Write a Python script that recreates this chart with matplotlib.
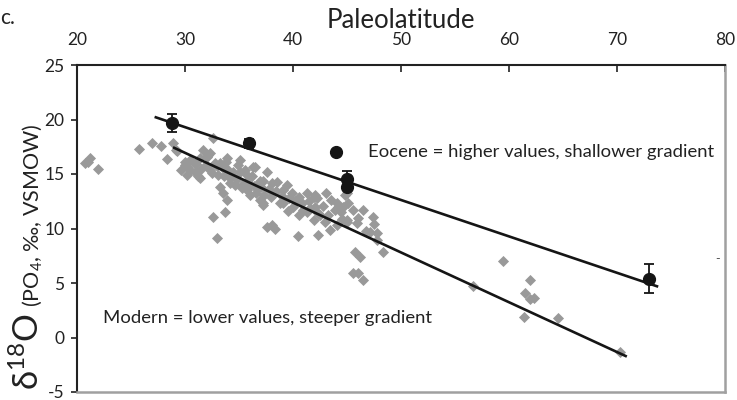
import matplotlib
matplotlib.use("Agg")
from matplotlib import pyplot as plt

plt.rcParams['font.family'] = ['Lato', 'DejaVu Sans']
plt.rcParams['mathtext.fontset'] = 'custom'
plt.rcParams['mathtext.rm'] = 'Lato'
plt.rcParams['mathtext.it'] = 'Lato:italic'
plt.rcParams['axes.unicode_minus'] = False

# modern samples (grey diamonds)
modern_lat = [20.7, 21.2, 21.0, 21.9, 25.7, 26.9, 27.8, 28.9, 28.3, 29.3,
              32.6, 30.0, 30.5, 30.2, 32.0, 32.8, 33.4, 34.0, 35.1, 35.7,
              36.5, 37.6, 33.2, 33.5, 33.9, 33.7, 32.6, 33.0, 35.7, 36.9,
              38.1, 39.1, 39.9, 40.6, 41.3, 41.9, 37.2, 37.6, 38.3, 40.5,
              42.3, 32.1, 33.2, 36.3, 35.6, 34.2, 36.9, 37.2, 36.6, 37.3,
              35.7, 43.1, 42.0, 43.4, 44.1, 44.2, 45.1, 45.0, 46.5, 47.4,
              47.1, 47.8, 45.7, 46.2, 48.3, 45.6, 46.5, 43.2, 42.3, 41.3,
              40.0, 39.1, 43.9, 44.8, 44.6, 45.6, 45.9, 45.0, 47.8, 46.0,
              37.2, 38.5, 39.4, 42.2, 44.1, 36.9, 38.8, 40.9, 41.6, 42.5,
              44.4, 38.1, 41.9, 45.0, 30.5, 30.9, 31.4, 31.9, 32.3, 33.1,
              34.4, 34.9, 34.6, 30.9, 31.4, 30.3, 31.7, 33.9, 35.1, 36.8,
              36.0, 35.3, 29.2,
              31.0, 31.5, 32.5, 33.0, 33.6, 34.2, 34.8, 35.4, 36.0, 36.4,
              37.0, 37.8, 38.4, 39.0, 39.6, 40.2, 40.8, 41.5, 42.0, 42.8,
              43.5, 33.8, 32.3, 36.2, 38.0, 39.5, 40.6, 43.0, 44.5, 46.0,
              46.8, 47.5, 30.0, 29.6, 31.2,
              56.7, 59.4, 61.9, 61.5, 61.9, 62.3, 61.4, 64.5, 70.3]
modern_d18o = [16.0, 16.5, 16.1, 15.5, 17.3, 17.8, 17.6, 17.8, 16.4, 17.1,
               18.3, 16.1, 15.4, 14.9, 16.6, 16.0, 15.6, 15.4, 15.2, 14.9,
               15.6, 15.2, 13.8, 13.3, 12.6, 11.5, 11.1, 9.1, 14.4, 14.3,
               14.2, 13.5, 13.3, 12.9, 13.3, 12.9, 12.3, 10.1, 10.0, 9.3,
               9.4, 16.7, 16.0, 15.6, 15.4, 14.2, 14.4, 12.2, 13.3, 13.1,
               13.5, 13.3, 13.1, 9.9, 10.3, 12.0, 12.3, 13.3, 11.7, 11.1,
               9.7, 9.6, 7.8, 7.4, 7.8, 5.9, 5.3, 11.2, 11.4, 11.5,
               12.0, 12.3, 11.7, 13.1, 12.0, 11.7, 10.5, 10.8, 8.9, 5.9,
               14.4, 14.3, 14.0, 12.8, 12.3, 12.6, 12.3, 11.7, 11.9, 11.2,
               11.5, 10.3, 10.8, 10.6, 16.3, 16.0, 16.5, 15.8, 15.4, 14.9,
               15.2, 15.8, 14.0, 15.2, 14.6, 15.6, 17.2, 16.5, 16.3, 13.7,
               13.1, 13.7, 17.2,
               15.9, 15.5, 15.1, 15.7, 14.8, 14.6, 14.5, 14.1, 14.0, 13.9,
               13.8, 13.6, 13.4, 13.0, 12.8, 12.5, 12.3, 12.5, 12.0, 12.1,
               12.6, 16.1, 16.9, 14.8, 12.9, 11.6, 11.2, 10.6, 10.9, 11.0,
               9.8, 10.4, 15.8, 15.4, 14.8,
               4.7, 7.0, 5.3, 4.1, 3.5, 3.6, 1.9, 1.8, -1.3]

# eocene samples (black circles with error bars)
eocene_lat = [28.8, 35.9, 44.0, 45.0, 45.0, 73.0]
eocene_d18o = [19.7, 17.8, 17.0, 14.5, 13.8, 5.4]
eocene_err = [0.85, 0.45, 0.0, 0.8, 0.0, 1.35]

# regression line end points
eocene_fit_lat = [27.3, 73.7]
eocene_fit_d18o = [20.2, 4.7]
modern_fit_lat = [29.0, 70.8]
modern_fit_d18o = [17.4, -1.7]

xticks = [20, 30, 40, 50, 60, 70, 80]
yticks = [-5, 0, 5, 10, 15, 20, 25]

W, H = 737, 400
fig = plt.figure(figsize=(W / 100, H / 100), dpi=100)
ax = fig.add_axes([77 / W, 8 / H, 648 / W, 327 / H])

ax.scatter(modern_lat, modern_d18o, marker='D', s=32, color='#999999',
           linewidths=0, zorder=2)
ax.plot(modern_fit_lat, modern_fit_d18o, color='#151515', lw=1.9, zorder=3)
ax.plot(eocene_fit_lat, eocene_fit_d18o, color='#151515', lw=1.9, zorder=3)
ax.errorbar(eocene_lat, eocene_d18o, yerr=eocene_err, fmt='o', ms=8.5,
            color='#151515', ecolor='#151515', elinewidth=1.3, capsize=3.3,
            capthick=1.3, zorder=4)

ax.set_xlim(20, 80)
ax.set_ylim(-5, 25)
ax.set_xticks(xticks)
ax.set_yticks(yticks)
ax.xaxis.tick_top()
ax.tick_params(axis='x', direction='in', length=5, width=1.2, labelsize=12.5,
               pad=12, colors='#222222')
ax.tick_params(axis='y', direction='out', length=4, width=1.2, labelsize=12.5,
               pad=5, colors='#222222')

for side in ['top', 'left']:
    ax.spines[side].set_color('#222222')
    ax.spines[side].set_linewidth(1.5)
for side in ['bottom', 'right']:
    ax.spines[side].set_color('#a0a0a0')
    ax.spines[side].set_linewidth(1.8)

ax.text(0.449, 0.719, 'Eocene = higher values, shallower gradient',
        transform=ax.transAxes, fontsize=13.3, va='baseline', ha='left',
        color='#222222')
ax.text(0.040, 0.211, 'Modern = lower values, steeper gradient',
        transform=ax.transAxes, fontsize=13.3, va='baseline', ha='left',
        color='#222222')
ax.text(79.3, 7.2, '-', fontsize=9, va='center', ha='center', color='#555555')

fig.text(401 / W, 1 - 28 / H, 'Paleolatitude', fontsize=18.5, ha='center',
         va='baseline', color='#222222')
fig.text(0, 1 - 24 / H, 'c.', fontsize=15, ha='left', va='baseline',
         color='#222222')

# y label in two parts: big delta-O, smaller units
big = fig.text(39 / W, 1 - 390 / H, r'δ$^{18}$O', fontsize=25, rotation=90,
               rotation_mode='anchor', ha='left', va='baseline',
               color='#222222')
fig.canvas.draw()
bb = big.get_window_extent(fig.canvas.get_renderer())
fig.text(39 / W, (bb.y1 + 6) / H, r'(PO$_4$, ‰, VSMOW)', fontsize=15.5,
         rotation=90, rotation_mode='anchor', ha='left', va='baseline',
         color='#222222')

fig.savefig('out.png', dpi=100)
